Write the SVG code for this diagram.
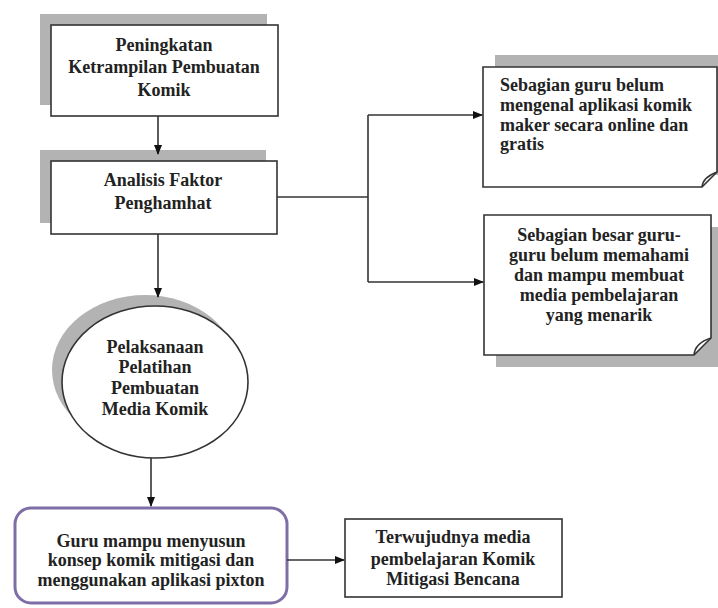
<svg xmlns="http://www.w3.org/2000/svg" width="718" height="608" viewBox="0 0 718 608">
<style>
.t{font-family:"Liberation Serif","Times New Roman",serif;font-weight:bold;font-size:18px;fill:#222}
.c{text-anchor:middle}
.box{fill:#fff;stroke:#333;stroke-width:1.6}
.sh{fill:#b3b3b3}
.ln{fill:none;stroke:#333;stroke-width:1.6}
</style>
<defs>
<marker id="ah" markerWidth="10" markerHeight="10" refX="9" refY="5" orient="auto" markerUnits="userSpaceOnUse">
<path d="M0,1 L10,5 L0,9 Z" fill="#111"/>
</marker>
</defs>
<rect width="718" height="608" fill="#fff"/>
<g id="n1">
<rect class="sh" x="40" y="14" width="227" height="91"/>
<rect class="box" x="51" y="25" width="227" height="91"/>
<text class="t c" x="164" y="51">Peningkatan</text>
<text class="t c" x="164" y="73">Ketrampilan Pembuatan</text>
<text class="t c" x="164" y="96">Komik</text>
</g>
<g id="n2">
<rect class="sh" x="40" y="150" width="226" height="73"/>
<rect class="box" x="51" y="161" width="226" height="73"/>
<text class="t c" x="163" y="186">Analisis Faktor</text>
<text class="t c" x="163" y="209">Penghamhat</text>
</g>
<g id="n3">
<rect class="sh" x="495" y="55" width="230" height="120"/>
<path class="box" d="M483,67 H717 V172 L702,187 H483 Z"/>
<path class="ln" d="M702,187 Q703,177 717,172" />
<text class="t" x="500" y="91">Sebagian guru belum</text>
<text class="t" x="500" y="111">mengenal aplikasi komik</text>
<text class="t" x="500" y="131">maker secara online dan</text>
<text class="t" x="500" y="150">gratis</text>
</g>
<g id="n4">
<rect class="sh" x="496" y="227" width="227" height="140"/>
<path class="box" d="M484,215 H711 V338 L694,355 H484 Z"/>
<path class="ln" d="M694,355 Q695,343 711,338"/>
<text class="t c" x="599" y="241">Sebagian besar guru-</text>
<text class="t c" x="599" y="261">guru belum memahami</text>
<text class="t c" x="599" y="281">dan mampu membuat</text>
<text class="t c" x="599" y="301">media pembelajaran</text>
<text class="t c" x="599" y="321">yang menarik</text>
</g>
<g id="n5">
<ellipse class="sh" cx="145" cy="370" rx="93" ry="75"/>
<ellipse class="box" cx="155" cy="382" rx="93" ry="76"/>
<text class="t c" x="155" y="353">Pelaksanaan</text>
<text class="t c" x="155" y="373">Pelatihan</text>
<text class="t c" x="155" y="394">Pembuatan</text>
<text class="t c" x="155" y="415">Media Komik</text>
</g>
<g id="n6">
<rect x="15" y="508" width="272" height="95" rx="16" fill="#fff" stroke="#7e6ea6" stroke-width="3"/>
<text class="t c" x="151" y="547">Guru mampu menyusun</text>
<text class="t c" x="151" y="566">konsep komik mitigasi dan</text>
<text class="t c" x="151" y="586">menggunakan aplikasi pixton</text>
</g>
<g id="n7">
<rect class="box" x="345" y="519" width="217" height="78"/>
<text class="t c" x="453" y="543">Terwujudnya media</text>
<text class="t c" x="453" y="565">pembelajaran Komik</text>
<text class="t c" x="453" y="585">Mitigasi Bencana</text>
</g>
<g id="connectors">
<line class="ln" x1="158" y1="116" x2="158" y2="154" marker-end="url(#ah)"/>
<polyline class="ln" points="277,197 368,197"/>
<polyline class="ln" points="368,115 368,282"/>
<line class="ln" x1="368" y1="115" x2="482" y2="115" marker-end="url(#ah)"/>
<line class="ln" x1="368" y1="282" x2="483" y2="282" marker-end="url(#ah)"/>
<line class="ln" x1="158" y1="234" x2="158" y2="297" marker-end="url(#ah)"/>
<line class="ln" x1="151" y1="458" x2="151" y2="506" marker-end="url(#ah)"/>
<line class="ln" x1="287" y1="560" x2="344" y2="560" marker-end="url(#ah)"/>
</g>
</svg>
